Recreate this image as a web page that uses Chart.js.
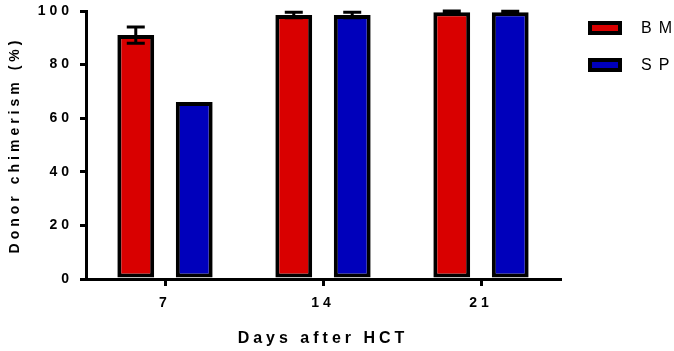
<!DOCTYPE html>
<html>
<head>
<meta charset="utf-8">
<script src="https://cdn.jsdelivr.net/npm/chart.js@4.4.1/dist/chart.umd.min.js"></script>
<style>
  html, body { margin:0; padding:0; background:#fff; }
  #wrap { width:674px; height:351px; }
</style>
</head>
<body>
<div id="wrap"><canvas id="chimerism" width="674" height="351"></canvas></div>
<script>
// Data
const days = ['7', '14', '21'];
const bmMean = [91, 98.5, 99.5];
const bmErr = [3, 1, 0.5];
const spMean = [66, 98.5, 99.5];
const spErr = [0, 1, 0.4];
const yTicks = [0, 20, 40, 60, 80, 100];

const FONT = "'Liberation Sans', Arial, sans-serif";

// letter-spaced text like the Prism export
const spacingPlugin = {
  id: 'spacing',
  beforeDraw(chart) { chart.ctx.letterSpacing = '4px'; }
};

// mean +/- error bars
const errorBars = {
  id: 'errorBars',
  afterDatasetsDraw(chart) {
    const ctx = chart.ctx;
    const y = chart.scales.y;
    const errs = [bmErr, spErr];
    ctx.save();
    ctx.strokeStyle = '#000';
    ctx.lineWidth = 3;
    chart.data.datasets.forEach((ds, i) => {
      chart.getDatasetMeta(i).data.forEach((bar, j) => {
        const e = errs[i][j];
        if (!e) return;
        const top = y.getPixelForValue(ds.data[j] + e);
        const bot = y.getPixelForValue(ds.data[j] - e);
        ctx.beginPath();
        ctx.moveTo(bar.x, bot); ctx.lineTo(bar.x, top);
        ctx.moveTo(bar.x - 9, top); ctx.lineTo(bar.x + 9, top);
        ctx.moveTo(bar.x - 9, bot); ctx.lineTo(bar.x + 9, bot);
        ctx.stroke();
      });
    });
    ctx.restore();
  }
};

// legend on the right
const sideLegend = {
  id: 'sideLegend',
  afterDraw(chart) {
    const ctx = chart.ctx;
    ctx.save();
    chart.data.datasets.forEach((ds, i) => {
      const top = 21 + i * 37;
      ctx.fillStyle = '#000';
      ctx.fillRect(588, top, 34, 14);
      ctx.fillStyle = ds.backgroundColor;
      ctx.fillRect(592, top + 4, 26, 6);
      ctx.font = '16px ' + FONT;
      ctx.letterSpacing = '7px';
      ctx.textBaseline = 'middle';
      ctx.fillStyle = '#000';
      ctx.fillText(ds.label, 641, top + 8);
    });
    ctx.restore();
  }
};

const noPad = s => { s.paddingTop = 0; s.paddingBottom = 0; s.paddingLeft = 0; s.paddingRight = 0; };

new Chart(document.getElementById('chimerism'), {
  type: 'bar',
  data: {
    labels: days,
    datasets: [
      { label: 'BM', data: bmMean, backgroundColor: '#D90000' },
      { label: 'SP', data: spMean, backgroundColor: '#0000BB' }
    ]
  },
  options: {
    responsive: false,
    animation: false,
    datasets: {
      bar: {
        borderColor: '#000',
        borderWidth: 4,
        borderSkipped: false,
        categoryPercentage: 0.74,
        barPercentage: 0.63
      }
    },
    layout: { padding: { top: 11, right: 114, bottom: 0, left: 0 } },
    plugins: { legend: { display: false }, tooltip: { enabled: false } },
    scales: {
      x: {
        afterFit: s => { s.height = 72; noPad(s); },
        grid: { display: true, drawOnChartArea: false, drawTicks: true, tickLength: 7, offset: false, color: '#000', lineWidth: 3 },
        border: { display: true, color: '#000', width: 3 },
        ticks: { color: '#000', padding: 9, font: { family: FONT, size: 14, weight: 'bold' } },
        title: { display: true, text: 'Days after HCT', color: '#000', padding: { top: 0, bottom: 3 }, font: { family: FONT, size: 16, weight: 'bold' } }
      },
      y: {
        min: 0, max: 100,
        afterFit: s => { s.width = 86; noPad(s); },
        afterBuildTicks: s => { s.ticks = yTicks.map(v => ({ value: v })); },
        grid: { display: true, drawOnChartArea: false, drawTicks: true, tickLength: 6, color: '#000', lineWidth: 3 },
        border: { display: true, color: '#000', width: 3 },
        ticks: { color: '#000', padding: 7, font: { family: FONT, size: 14, weight: 'bold' } },
        title: { display: true, text: 'Donor chimerism (%)', color: '#000', padding: { top: 7, bottom: 0 }, font: { family: FONT, size: 14, weight: 'bold' } }
      }
    }
  },
  plugins: [spacingPlugin, errorBars, sideLegend]
});
</script>
</body>
</html>
